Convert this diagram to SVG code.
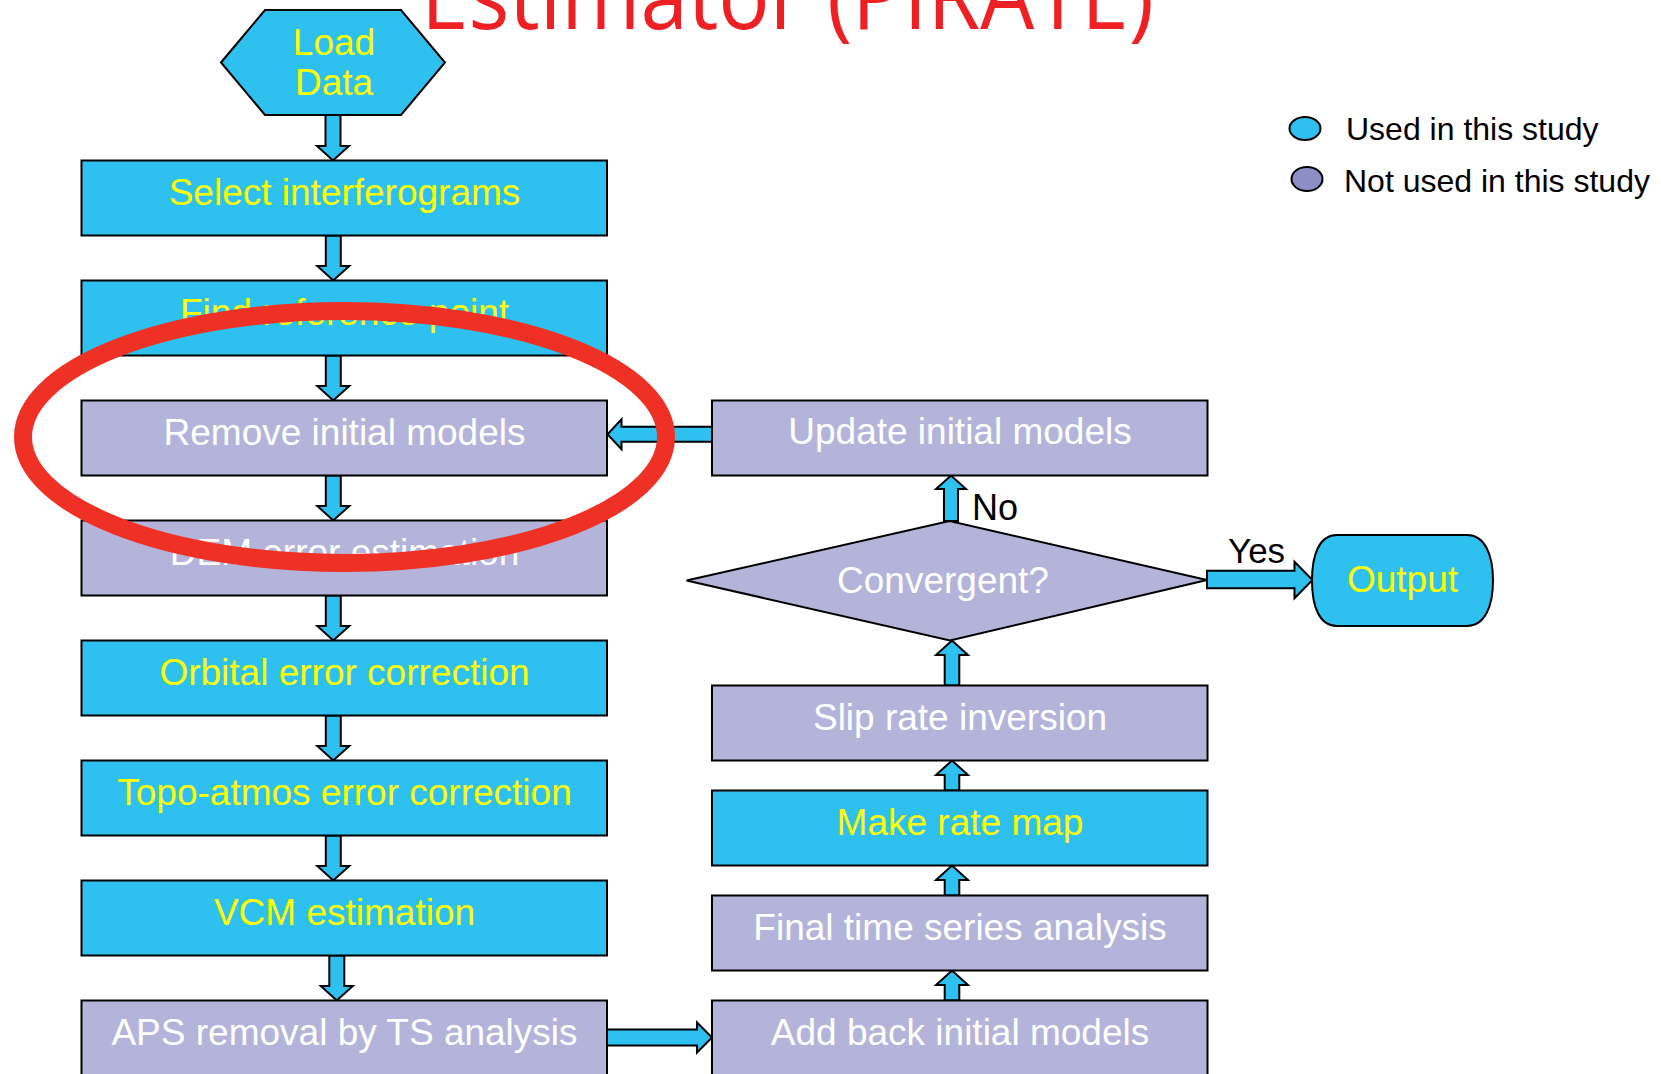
<svg xmlns="http://www.w3.org/2000/svg" width="1661" height="1074" viewBox="0 0 1661 1074">
<defs>
<style>
.used{fill:#2EC1F0;stroke:#000;stroke-width:2}
.notused{fill:#B4B4DA;stroke:#000;stroke-width:2}
.arr{fill:#2EC1F0;stroke:#000;stroke-width:2;stroke-linejoin:miter}
.t{font-family:"Liberation Sans",Arial,sans-serif;font-size:37px;text-anchor:middle}
.ty{fill:#FFFF00}
.tw{fill:#FFFFFF}
.lab{font-family:"Liberation Sans",Arial,sans-serif;fill:#000}
</style>
</defs>
<rect width="1661" height="1074" fill="#FFFFFF"/>

<g id="title">
<text x="421" y="28.5" font-family="'Open Sans','Noto Sans',sans-serif" font-size="94" fill="#EE2024" textLength="733" lengthAdjust="spacingAndGlyphs">Estimator (PIRATE)</text>
</g>

<g id="connectors">
<polygon class="arr" points="325.5,115 340.5,115 340.5,146 349,146 333,160.5 317,146 325.5,146"/>
<polygon class="arr" points="325.8,235.5 340.8,235.5 340.8,266 349.3,266 333.3,280.5 317.3,266 325.8,266"/>
<polygon class="arr" points="325.8,355.5 340.8,355.5 340.8,386 349.3,386 333.3,400.5 317.3,386 325.8,386"/>
<polygon class="arr" points="325.8,475.5 340.8,475.5 340.8,506 349.3,506 333.3,520.5 317.3,506 325.8,506"/>
<polygon class="arr" points="325.8,595.5 340.8,595.5 340.8,626 349.3,626 333.3,640.5 317.3,626 325.8,626"/>
<polygon class="arr" points="325.8,715.5 340.8,715.5 340.8,746 349.3,746 333.3,760.5 317.3,746 325.8,746"/>
<polygon class="arr" points="325.8,835.5 340.8,835.5 340.8,866 349.3,866 333.3,880.5 317.3,866 325.8,866"/>
<polygon class="arr" points="329.3,955.5 344.3,955.5 344.3,986 352.8,986 336.8,1000.5 320.8,986 329.3,986"/>
<polygon class="arr" points="607,1029.5 697,1029.5 697,1022.5 712,1037.5 697,1052.5 697,1045.5 607,1045.5"/>
<polygon class="arr" points="944.7,1000.5 944.7,985 936,985 952,970.5 968,985 959.3,985 959.3,1000.5"/>
<polygon class="arr" points="944.7,895.5 944.7,880 936,880 952,865.5 968,880 959.3,880 959.3,895.5"/>
<polygon class="arr" points="944.7,790.5 944.7,775 936,775 952,760.5 968,775 959.3,775 959.3,790.5"/>
<polygon class="arr" points="944.7,685.5 944.7,655 936,655 952,640.5 968,655 959.3,655 959.3,685.5"/>
<polygon class="arr" points="944,521 944,489 936,489 951,475.5 966,489 958,489 958,521"/>
<polygon class="arr" points="712,426.7 621.5,426.7 621.5,419.3 607.5,434.2 621.5,449.3 621.5,441.7 712,441.7"/>
<polygon class="arr" points="1207,570.7 1294.5,570.7 1294.5,561.7 1312.5,580 1294.5,598.3 1294.5,588.3 1207,588.3"/>
<text class="lab" x="972" y="519.5" font-size="36">No</text>
<text class="lab" x="1228" y="563" font-size="35">Yes</text>
</g>

<g id="load-data">
<polygon class="used" points="221,62.5 265,10 401,10 445,62.5 401,115 265,115"/>
<text class="t ty" x="334" y="55">Load</text>
<text class="t ty" x="334" y="95">Data</text>
</g>

<g id="select-interferograms">
<rect class="used" x="81.5" y="160.5" width="525.5" height="75"/>
<text class="t ty" x="344.5" y="205">Select interferograms</text>
</g>
<g id="find-reference-point">
<rect class="used" x="81.5" y="280.5" width="525.5" height="75"/>
<text class="t ty" x="344.5" y="325">Find reference point</text>
</g>
<g id="remove-initial-models">
<rect class="notused" x="81.5" y="400.5" width="525.5" height="75"/>
<text class="t tw" x="344.5" y="445">Remove initial models</text>
</g>
<g id="dem-error-estimation">
<rect class="notused" x="81.5" y="520.5" width="525.5" height="75"/>
<text class="t tw" x="344.5" y="565">DEM error estimation</text>
</g>
<g id="orbital-error-correction">
<rect class="used" x="81.5" y="640.5" width="525.5" height="75"/>
<text class="t ty" x="344.5" y="685">Orbital error correction</text>
</g>
<g id="topo-atmos-error-correction">
<rect class="used" x="81.5" y="760.5" width="525.5" height="75"/>
<text class="t ty" x="344.5" y="805">Topo-atmos error correction</text>
</g>
<g id="vcm-estimation">
<rect class="used" x="81.5" y="880.5" width="525.5" height="75"/>
<text class="t ty" x="344.5" y="925">VCM estimation</text>
</g>
<g id="aps-removal">
<rect class="notused" x="81.5" y="1000.5" width="525.5" height="75"/>
<text class="t tw" x="344.5" y="1045">APS removal by TS analysis</text>
</g>

<g id="update-initial-models">
<rect class="notused" x="712" y="400.5" width="495.5" height="75"/>
<text class="t tw" x="960" y="444">Update initial models</text>
</g>
<g id="convergent">
<polygon class="notused" points="686.5,580.5 949.5,521 1207,580 950,640.5"/>
<text class="t tw" x="943" y="593">Convergent?</text>
</g>
<g id="output">
<path class="used" d="M1337,535 H1467 C1485,535 1493,555 1493,580.5 C1493,606 1485,626 1467,626 H1337 C1319,626 1312,606 1312,580.5 C1312,555 1319,535 1337,535 Z"/>
<text class="t ty" x="1402.5" y="591.5">Output</text>
</g>
<g id="slip-rate-inversion">
<rect class="notused" x="712" y="685.5" width="495.5" height="75"/>
<text class="t tw" x="960" y="729.5">Slip rate inversion</text>
</g>
<g id="make-rate-map">
<rect class="used" x="712" y="790.5" width="495.5" height="75"/>
<text class="t ty" x="960" y="834.5">Make rate map</text>
</g>
<g id="final-time-series-analysis">
<rect class="notused" x="712" y="895.5" width="495.5" height="75"/>
<text class="t tw" x="960" y="939.5">Final time series analysis</text>
</g>
<g id="add-back-initial-models">
<rect class="notused" x="712" y="1000.5" width="495.5" height="75"/>
<text class="t tw" x="960" y="1044.5">Add back initial models</text>
</g>

<g id="legend">
<ellipse cx="1305" cy="128.5" rx="15.5" ry="11.5" fill="#2EC1F0" stroke="#000" stroke-width="2"/>
<text class="lab" x="1346" y="139.5" font-size="32">Used in this study</text>
<ellipse cx="1307" cy="179" rx="15.5" ry="12" fill="#8E8EC6" stroke="#000" stroke-width="2"/>
<text class="lab" x="1344" y="191.5" font-size="32">Not used in this study</text>
</g>

<g id="highlight">
<ellipse cx="344.5" cy="437" rx="321.5" ry="126" fill="none" stroke="#EE3124" stroke-width="18"/>
</g>
</svg>
